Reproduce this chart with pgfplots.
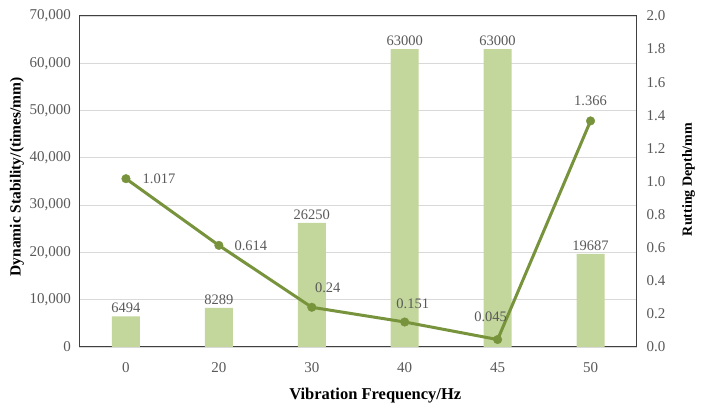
\documentclass[border=0pt]{standalone}
\usepackage{pgfplots}
\pgfplotsset{compat=1.18}
\usepackage{fontspec}
\setmainfont{Liberation Serif}
\definecolor{barc}{HTML}{C3D69B}
\definecolor{linec}{HTML}{77933C}
\definecolor{tickc}{HTML}{595959}
\definecolor{gridc}{HTML}{D9D9D9}
\definecolor{framec}{HTML}{404040}
\begin{document}
\begin{tikzpicture}
\pgfplotsset{
  common/.style={
    scale only axis, width=557.5pt, height=331pt, at={(0,0)}, anchor=south west,
    xmin=-0.5, xmax=5.5,
    font=\fontsize{14.5}{16}\selectfont,
    tick label style={tickc, font=\fontsize{15}{17}\selectfont},
    major tick length=0pt,
    axis line style={framec, line width=1pt},
  }
}
\begin{axis}[common, name=main,
  ymin=0, ymax=70000, xtick={0,1,2,3,4,5}, xticklabels={0,20,30,40,45,50},
  ytick={0,10000,20000,30000,40000,50000,60000,70000},
  ymajorgrids, grid style={gridc, line width=0.8pt},
  scaled y ticks=false,
  yticklabel style={xshift=-5pt, /pgf/number format/.cd, 1000 sep={,}, assume math mode=true},
  xticklabel style={yshift=-12pt},
  ybar, bar width=28pt,
  nodes near coords, point meta=explicit symbolic,
  every node near coord/.append style={tickc, font=\fontsize{14.5}{16}\selectfont, yshift=0pt},
  ylabel={Dynamic Stability/(times/mm)},
  xlabel={Vibration Frequency/Hz},
  ylabel style={font=\fontsize{15.5}{17}\selectfont\bfseries, black, at={(ticklabel cs:0.514)}, yshift=-1pt},
  xlabel style={font=\fontsize{16.5}{18}\selectfont\bfseries, black, xshift=17pt, yshift=-9pt},
]
\addplot[fill=barc, draw=none] coordinates {
  (0,6494) [6494]
  (1,8289) [8289]
  (2,26250) [26250]
  (3,63000) [63000]
  (4,63000) [63000]
  (5,19687) [19687]
};
\end{axis}
\begin{axis}[common,
  ymin=0, ymax=2, axis x line=none, axis y line*=right,
  ytick={0,0.2,0.4,0.6,0.8,1.0,1.2,1.4,1.6,1.8,2.0},
  yticklabel style={xshift=6pt, /pgf/number format/.cd, fixed, fixed zerofill, precision=1, assume math mode=true},
  ylabel={Rutting Depth/mm},
  ylabel style={font=\fontsize{14}{16}\selectfont\bfseries, black, at={(ticklabel cs:0.506)}, yshift=-10pt},
]
\addplot[linec, line width=3pt, mark=*, mark size=4.3pt, mark options={solid, fill=linec, draw=linec, line width=0.4pt},
  nodes near coords, point meta=explicit symbolic,
  visualization depends on={value \thisrow{dx}\as\dx},
  visualization depends on={value \thisrow{dy}\as\dy},
  every node near coord/.append style={tickc, font=\fontsize{14.5}{16}\selectfont, anchor=center, xshift=\dx pt, yshift=\dy pt},
] table[x=x, y=y, meta=lab] {
x y lab dx dy
0 1.017 1.017 33 0
1 0.614 0.614 32 0
2 0.24 0.24 16 19
3 0.151 0.151 8 18
4 0.045 0.045 -7 23
5 1.366 1.366 0 20
};
\end{axis}
\pgfresetboundingbox
\path[use as bounding box] ([xshift=-79.5pt,yshift=-62pt]main.south west) rectangle ++(702pt,409pt);
\end{tikzpicture}
\end{document}
